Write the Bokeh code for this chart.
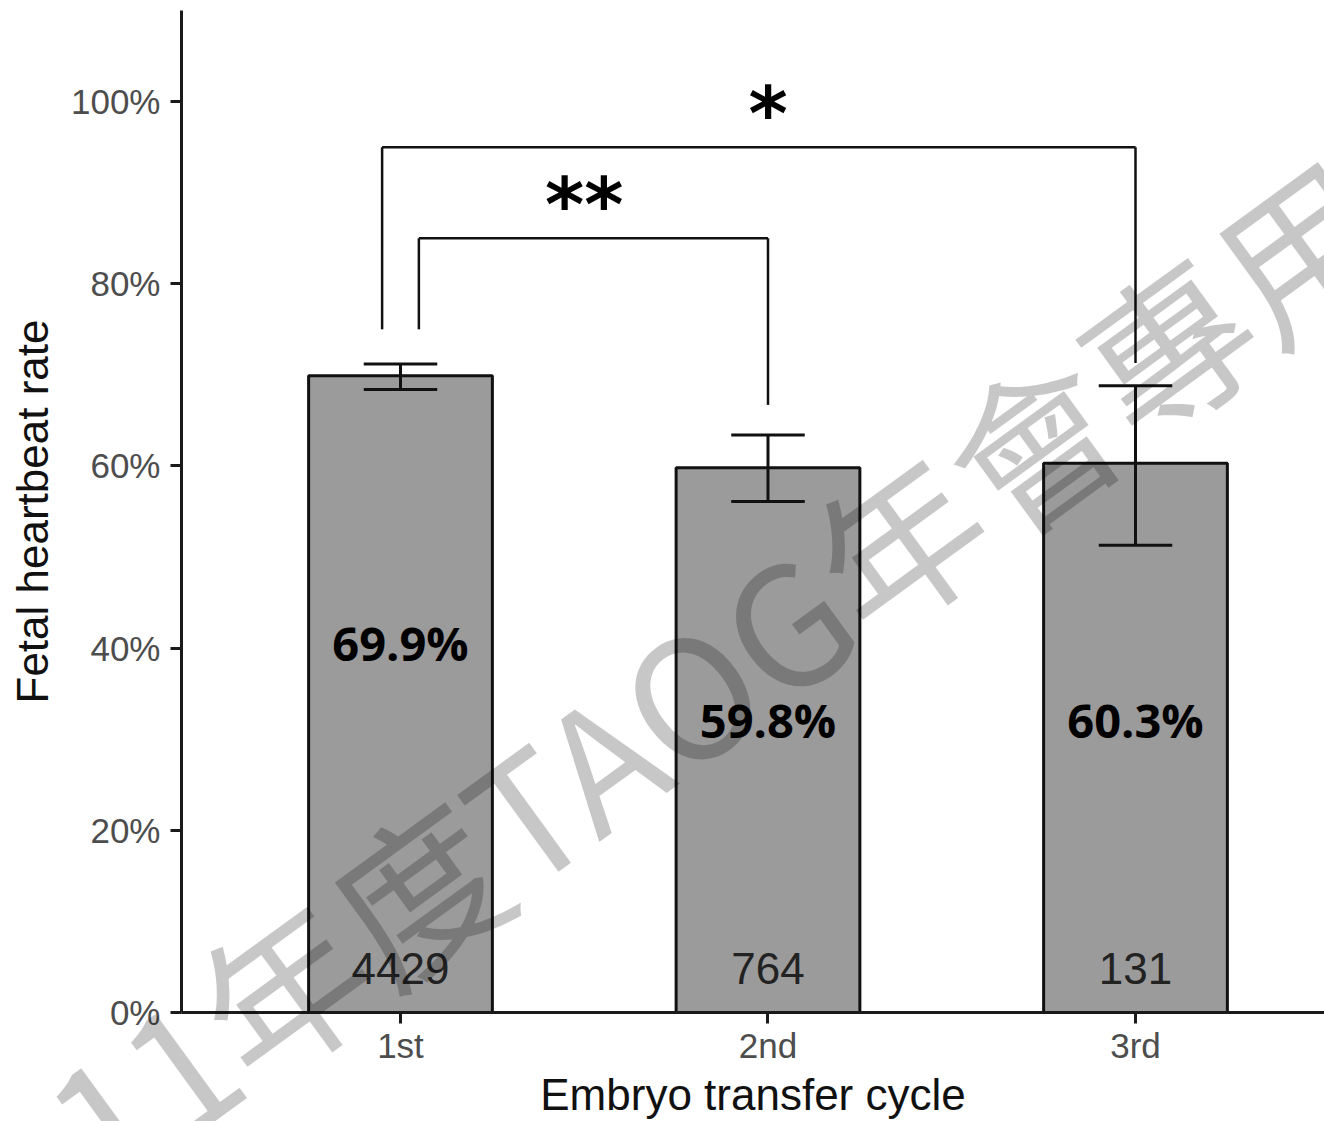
from bokeh.plotting import figure
from bokeh.models import FixedTicker, Range1d, Div
from bokeh.layouts import column
from bokeh.core.properties import value
from bokeh.embed import file_html
from bokeh.resources import INLINE

# ---- data ----
cycles = ["1st", "2nd", "3rd"]
cycle_pos = [1, 2, 3]
rate = [0.699, 0.598, 0.603]
err_low = [0.684, 0.561, 0.513]
err_high = [0.712, 0.634, 0.688]
counts = ["4429", "764", "131"]
rate_labels = ["69.9%", "59.8%", "60.3%"]
y_ticks = [0.0, 0.2, 0.4, 0.6, 0.8, 1.0]
y_tick_labels = ["0%", "20%", "40%", "60%", "80%", "100%"]

# significance comparisons
sig_from = [1, 1]
sig_to = [2, 3]
sig_labels = ["**", "*"]

watermark = "111年度TAOG年會專用"

# ---- annotation layout (not data) ----
sig_y = [0.85, 0.95]
sig_leg_shift = [0.05, -0.05]
sig_left_bottom = [0.75, 0.75]
sig_right_bottom = [0.667, 0.713]
rate_label_y = [0.406, 0.321, 0.321]
count_label_y = 0.048
cap_half = 0.1
bar_width = 0.5

W, H = 1324, 1121
p = figure(width=W, height=H,
           x_range=Range1d(0.4041, 3.5143), y_range=Range1d(0, 1.1),
           output_backend="svg", toolbar_location=None,
           min_border_left=181, min_border_right=0,
           min_border_top=10, min_border_bottom=108)
p.outline_line_color = None
p.xgrid.visible = False
p.ygrid.visible = False
p.background_fill_color = "white"

# bars
p.vbar(x=cycle_pos, top=rate, bottom=0, width=bar_width,
       fill_color="#9b9b9b", line_color="#111111", line_width=3)

# error bars
p.segment(x0=cycle_pos, y0=err_low, x1=cycle_pos, y1=err_high,
          line_color="#111111", line_width=3)
p.segment(x0=[x - cap_half for x in cycle_pos], y0=err_high,
          x1=[x + cap_half for x in cycle_pos], y1=err_high,
          line_color="#111111", line_width=3)
p.segment(x0=[x - cap_half for x in cycle_pos], y0=err_low,
          x1=[x + cap_half for x in cycle_pos], y1=err_low,
          line_color="#111111", line_width=3)

# significance brackets
left_x = [a + s for a, s in zip(sig_from, sig_leg_shift)]
p.segment(x0=left_x, y0=sig_left_bottom, x1=left_x, y1=sig_y,
          line_color="#111111", line_width=2.5)
p.segment(x0=left_x, y0=sig_y, x1=sig_to, y1=sig_y,
          line_color="#111111", line_width=2.5)
p.segment(x0=sig_to, y0=sig_right_bottom, x1=sig_to, y1=sig_y,
          line_color="#111111", line_width=2.5)
p.text(x=[(a + b) / 2 for a, b in zip(sig_from, sig_to)], y=sig_y, text=sig_labels,
       text_font=value("DejaVu Sans"), text_font_style="bold",
       text_font_size="75px", text_align="center", text_baseline="alphabetic",
       text_color="black", y_offset=-33)

# rate labels
p.text(x=cycle_pos, y=rate_label_y, text=rate_labels,
       text_font=value("Open Sans"), text_font_style="bold",
       text_font_size="47px", text_align="center", text_baseline="middle",
       text_color="black")

# count labels
p.text(x=cycle_pos, y=[count_label_y] * 3, text=counts,
       text_font=value("Liberation Sans"), text_font_size="44px",
       text_align="center", text_baseline="middle", text_color="#222222")

# axes
p.xaxis.ticker = FixedTicker(ticks=cycle_pos)
p.xaxis.major_label_overrides = dict(zip(cycle_pos, cycles))
p.yaxis.ticker = FixedTicker(ticks=y_ticks)
p.yaxis.major_label_overrides = dict(zip(y_ticks, y_tick_labels))
p.xaxis.axis_label = "Embryo transfer cycle"
p.yaxis.axis_label = "Fetal heartbeat rate"
for ax in (p.xaxis, p.yaxis):
    ax.axis_line_width = 3
    ax.axis_line_color = "#1a1a1a"
    ax.major_tick_line_width = 3
    ax.major_tick_line_color = "#1a1a1a"
    ax.major_tick_out = 11
    ax.major_tick_in = 0
    ax.minor_tick_out = 0
    ax.minor_tick_in = 0
    ax.major_label_text_font = "Liberation Sans"
    ax.major_label_text_font_size = "35px"
    ax.major_label_text_color = "#4d4d4d"
    ax.axis_label_text_font = "Liberation Sans"
    ax.axis_label_text_font_size = "44px"
    ax.axis_label_text_font_style = "normal"
    ax.axis_label_text_color = "#111111"
p.yaxis.major_label_standoff = 10
p.yaxis.axis_label_standoff = 11
p.xaxis.major_label_standoff = 2
p.xaxis.axis_label_standoff = 2

# watermark overlay (semi-transparent, rotated, not clipped to the plot frame)
cx, cy = 673, 691
wm_html = (
    '<div style="position:absolute; left:%dpx; top:%dpx; width:2000px; height:200px; '
    'line-height:200px; text-align:center; white-space:nowrap; '
    'transform:rotate(-36deg); transform-origin:50%% 50%%; '
    "font-family:'Noto Sans CJK TC'; font-size:166px; color:rgba(0,0,0,0.22);\">%s</div>"
    % (cx - 1000, cy - 100, watermark)
)
wm = Div(text=wm_html, width=W, height=H,
         styles={"position": "absolute", "left": "0px", "top": "0px",
                 "overflow": "hidden", "pointer-events": "none", "z-index": "10"})

layout = column(p, wm, styles={"position": "relative", "overflow": "hidden"})

open("out.html", "w").write(file_html(layout, INLINE))
